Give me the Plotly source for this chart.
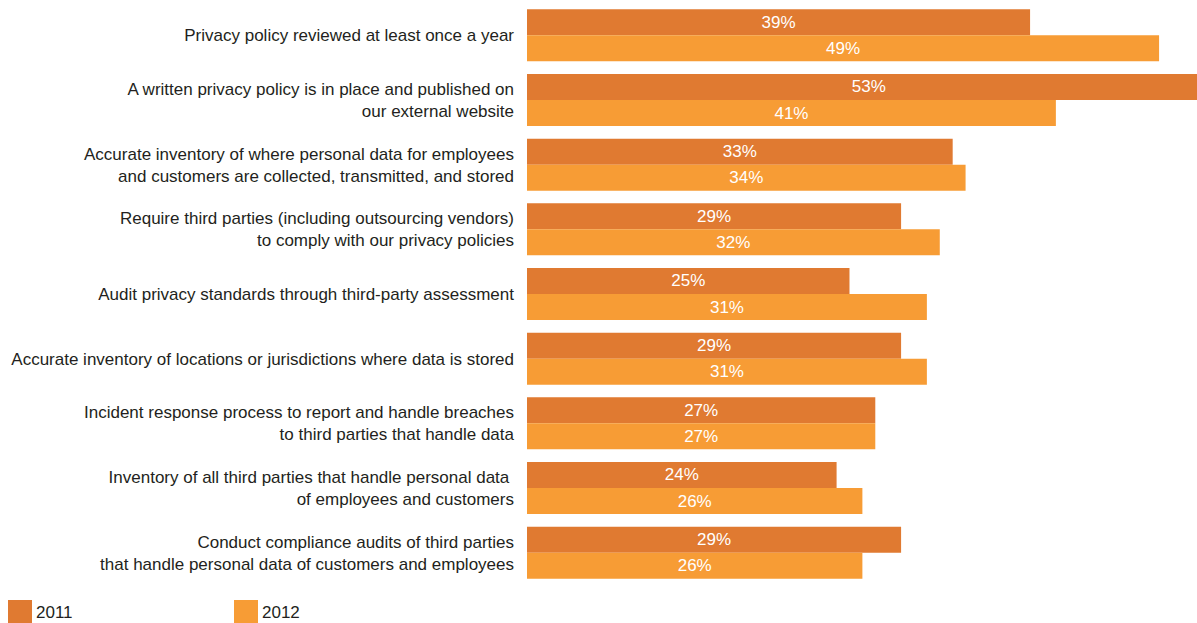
import plotly.graph_objects as go

categories = [
    "Privacy policy reviewed at least once a year",
    "A written privacy policy is in place and published on<br>our external website",
    "Accurate inventory of where personal data for employees<br>and customers are collected, transmitted, and stored",
    "Require third parties (including outsourcing vendors)<br>to comply with our privacy policies",
    "Audit privacy standards through third-party assessment",
    "Accurate inventory of locations or jurisdictions where data is stored",
    "Incident response process to report and handle breaches<br>to third parties that handle data",
    "Inventory of all third parties that handle personal data <br>of employees and customers",
    "Conduct compliance audits of third parties<br>that handle personal data of customers and employees",
]
values_2011 = [39, 53, 33, 29, 25, 29, 27, 24, 29]
values_2012 = [49, 41, 34, 32, 31, 31, 27, 26, 26]
series_names = ["2011", "2012"]

COLOR_2011 = "#E07A31"
COLOR_2012 = "#F79C35"
FONT = "Liberation Sans, Arial, Helvetica, sans-serif"
TEXT_COLOR = "#231F20"
FONT_SIZE = 17

W, H = 1197, 623
M_L, M_R, M_T, M_B = 527, 0, 3, 38
plot_w = W - M_L - M_R
plot_h = H - M_T - M_B

fig = go.Figure()
for name, vals, col in [(series_names[0], values_2011, COLOR_2011),
                        (series_names[1], values_2012, COLOR_2012)]:
    fig.add_trace(go.Bar(
        name=name,
        y=categories,
        x=vals,
        orientation="h",
        marker=dict(color=col, line=dict(width=0)),
        text=[f"{v}%" for v in vals],
        textposition="inside",
        insidetextanchor="middle",
        textangle=0,
        textfont=dict(family=FONT, size=FONT_SIZE, color="white"),
        showlegend=False,
        hoverinfo="skip",
    ))

# Legend drawn as swatches + labels below the chart
def px_x(px):
    return (px - M_L) / plot_w

def px_y(py):
    return (M_T + plot_h - py) / plot_h

shapes = []
annotations = []
for name, col, x0 in [(series_names[0], COLOR_2011, 8), (series_names[1], COLOR_2012, 234)]:
    shapes.append(dict(type="rect", xref="paper", yref="paper",
                       x0=px_x(x0), x1=px_x(x0 + 24), y0=px_y(600), y1=px_y(623),
                       fillcolor=col, line=dict(width=0)))
    annotations.append(dict(xref="paper", yref="paper", x=px_x(x0 + 26), y=px_y(612),
                            text=name, showarrow=False, xanchor="left", yanchor="middle",
                            font=dict(family=FONT, size=FONT_SIZE, color=TEXT_COLOR)))

fig.update_layout(
    width=W, height=H,
    margin=dict(l=M_L, r=M_R, t=M_T, b=M_B, pad=0),
    paper_bgcolor="white", plot_bgcolor="white",
    barmode="group", bargap=0.195, bargroupgap=0,
    xaxis=dict(range=[0, 51.94], visible=False, fixedrange=True),
    yaxis=dict(autorange="reversed", showgrid=False, zeroline=False, showline=False,
               ticks="", ticklabelstandoff=12,
               tickfont=dict(family=FONT, size=FONT_SIZE, color=TEXT_COLOR)),
    uniformtext=dict(mode=False),
    shapes=shapes,
    annotations=annotations,
    showlegend=False,
)

fig.write_html("out.html")
